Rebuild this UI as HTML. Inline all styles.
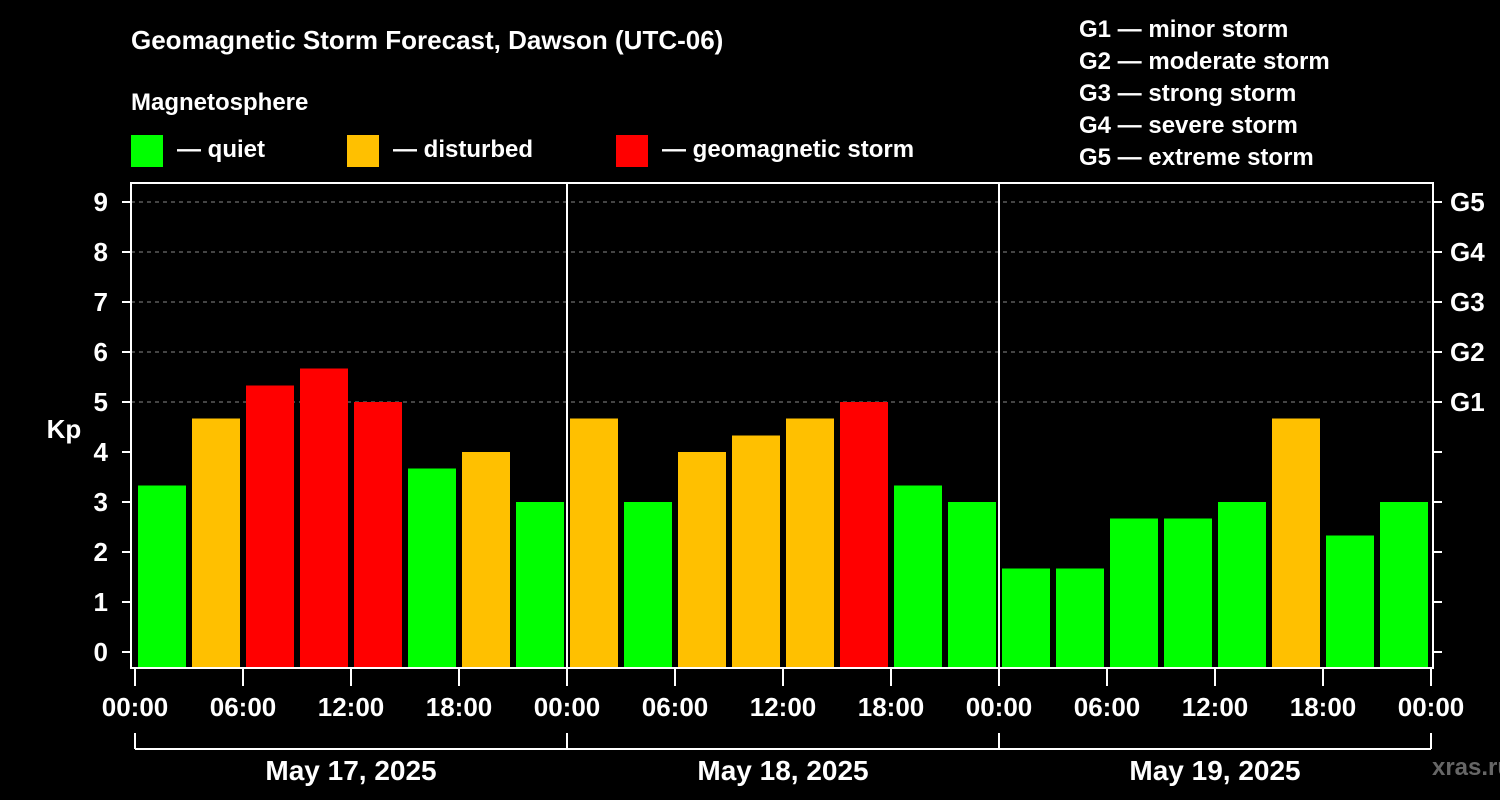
<!DOCTYPE html>
<html><head><meta charset="utf-8"><style>
html,body{margin:0;padding:0;background:#000;width:1500px;height:800px;overflow:hidden}
svg{display:block;font-family:"Liberation Sans",Arial,sans-serif;font-weight:bold}
</style></head><body>
<svg id="chart" width="1500" height="800" viewBox="0 0 1500 800">
<rect width="1500" height="800" fill="#000"/>
<text x="131" y="49" fill="#fff" font-size="26">Geomagnetic Storm Forecast, Dawson (UTC-06)</text>
<text x="131" y="110" fill="#fff" font-size="24">Magnetosphere</text>
<g><rect x="131" y="135" width="32" height="32" fill="#00ff00"/><text x="177" y="157" fill="#fff" font-size="24">— quiet</text></g>
<g><rect x="347" y="135" width="32" height="32" fill="#ffc000"/><text x="393" y="157" fill="#fff" font-size="24">— disturbed</text></g>
<g><rect x="616" y="135" width="32" height="32" fill="#ff0000"/><text x="662" y="157" fill="#fff" font-size="24">— geomagnetic storm</text></g>
<g fill="#fff" font-size="24">
<text x="1079" y="37">G1 — minor storm</text>
<text x="1079" y="69">G2 — moderate storm</text>
<text x="1079" y="101">G3 — strong storm</text>
<text x="1079" y="133">G4 — severe storm</text>
<text x="1079" y="165">G5 — extreme storm</text>
</g>
<text x="64" y="438" fill="#fff" font-size="26" text-anchor="middle">Kp</text>
<text x="1472" y="775" fill="#666" font-size="24" text-anchor="middle">xras.ru</text>
<g id="grid"></g><g id="bars"></g><g id="axes"></g>
</svg>
<script>
const kpValues=[3.33,4.67,5.33,5.67,5.0,3.67,4.0,3.0, 4.67,3.0,4.0,4.33,4.67,5.0,3.33,3.0, 1.67,1.67,2.67,2.67,3.0,4.67,2.33,3.0];
const dayLabels=["May 17, 2025","May 18, 2025","May 19, 2025"];
const hourLabels=["00:00","06:00","12:00","18:00"];
const yTicks=[0,1,2,3,4,5,6,7,8,9];
const gLabels=["G1","G2","G3","G4","G5"];
const NS="http://www.w3.org/2000/svg";
const L=131,R=1433,T=183,B=668,X0=135,DAY=432;
const y=v=>652-50*v;
const x=h=>X0+h*DAY/24;
function mk(tag,attrs,parent,txt){const e=document.createElementNS(NS,tag);for(const k in attrs)e.setAttribute(k,attrs[k]);if(txt!==undefined)e.textContent=txt;document.getElementById(parent).appendChild(e);return e;}
for(let g=5;g<=9;g++){const e=mk('line',{x1:L,x2:R,y1:y(g),y2:y(g),stroke:'#888','stroke-dasharray':'4,4','stroke-width':1},'grid');

}
kpValues.forEach((v,i)=>{const c=v>=5?'#ff0000':(v>=4?'#ffc000':'#00ff00');
const e=mk('rect',{x:x(i*3)+3,y:y(v),width:48,height:B-y(v),fill:c},'bars');

});
const frame=mk('rect',{x:L,y:T,width:R-L,height:B-T,fill:'none',stroke:'#fff','stroke-width':2},'axes');


[1,2].forEach(d=>{const e=mk('line',{x1:x(d*24),x2:x(d*24),y1:T,y2:B,stroke:'#fff','stroke-width':2},'axes');

});
yTicks.forEach(t=>{mk('line',{x1:122,x2:L,y1:y(t),y2:y(t),stroke:'#fff','stroke-width':2},'axes');
mk('line',{x1:R,x2:1442,y1:y(t),y2:y(t),stroke:'#fff','stroke-width':2},'axes');
const e=mk('text',{x:108,y:y(t)+9,fill:'#fff','font-size':26,'text-anchor':'end'},'axes',String(t));

});
gLabels.forEach((g,i)=>{const e=mk('text',{x:1450,y:y(5+i)+9,fill:'#fff','font-size':26},'axes',g);

});
for(let h=0;h<=72;h+=6){const xx=x(h);
mk('line',{x1:xx,x2:xx,y1:B,y2:686,stroke:'#fff','stroke-width':2},'axes');
const e=mk('text',{x:xx,y:716,fill:'#fff','font-size':26,'text-anchor':'middle'},'axes',hourLabels[(h/6)%4]);

}
mk('line',{x1:x(0),x2:x(72),y1:749,y2:749,stroke:'#fff','stroke-width':2},'axes');
for(let d=0;d<=3;d++)mk('line',{x1:x(d*24),x2:x(d*24),y1:733,y2:749,stroke:'#fff','stroke-width':2},'axes');
dayLabels.forEach((l,d)=>{const e=mk('text',{x:x(d*24+12),y:780,fill:'#fff','font-size':28,'text-anchor':'middle'},'axes',l);

});
</script>
</body></html>
